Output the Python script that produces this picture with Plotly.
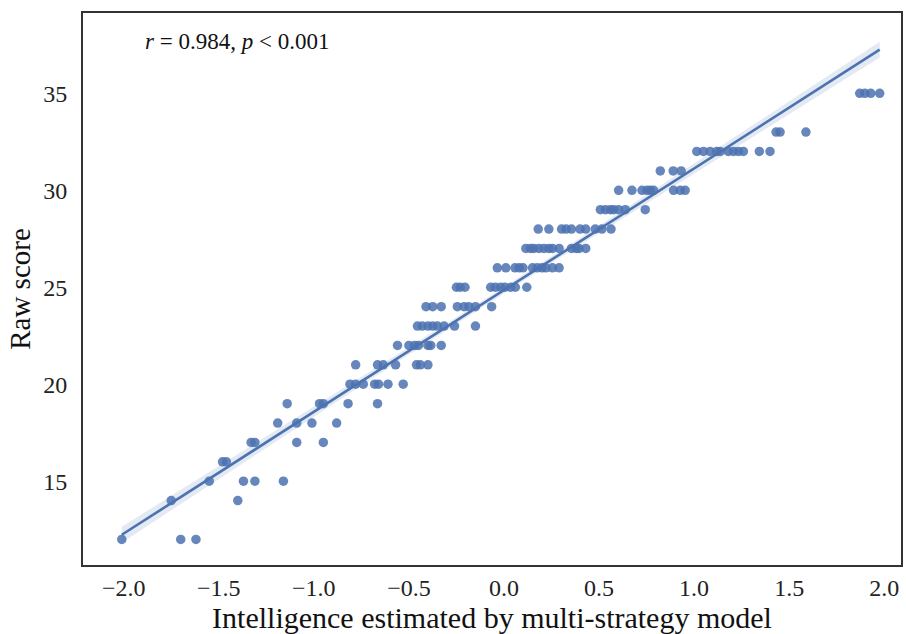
import numpy as np
import plotly.graph_objects as go

# Intelligence estimates, grouped by raw score
score_levels = [12, 14, 15, 16, 17, 18, 19, 20, 21, 22, 23, 24, 25, 26, 27, 28, 29, 30, 31, 32, 33, 35]
estimates_by_score = [
    [-2.01, -1.70, -1.62],
    [-1.75, -1.40],
    [-1.55, -1.37, -1.31, -1.16],
    [-1.48, -1.46],
    [-1.33, -1.31, -1.09, -0.95],
    [-1.19, -1.09, -1.01, -0.88],
    [-1.14, -0.97, -0.95, -0.82, -0.665],
    [-0.81, -0.78, -0.74, -0.68, -0.66, -0.61, -0.53],
    [-0.78, -0.665, -0.635, -0.57, -0.46, -0.44, -0.40],
    [-0.56, -0.50, -0.47, -0.45, -0.40, -0.385, -0.33],
    [-0.455, -0.43, -0.40, -0.375, -0.35, -0.315, -0.26, -0.15],
    [-0.41, -0.375, -0.33, -0.245, -0.21, -0.185, -0.15, -0.065],
    [-0.25, -0.23, -0.205, -0.07, -0.045, -0.017, 0.005, 0.035, 0.06, 0.12],
    [-0.035, 0.01, 0.058, 0.08, 0.10, 0.15, 0.175, 0.20, 0.22, 0.255, 0.29],
    [0.115, 0.14, 0.157, 0.184, 0.21, 0.236, 0.255, 0.29, 0.355, 0.38, 0.395, 0.43],
    [0.18, 0.236, 0.303, 0.327, 0.355, 0.40, 0.43, 0.48, 0.515, 0.563],
    [0.507, 0.534, 0.56, 0.577, 0.603, 0.638, 0.743],
    [0.603, 0.673, 0.726, 0.752, 0.77, 0.787, 0.892, 0.927, 0.953],
    [0.822, 0.89, 0.932],
    [1.014, 1.049, 1.084, 1.119, 1.137, 1.18, 1.207, 1.233, 1.259, 1.343, 1.399],
    [1.431, 1.452, 1.588],
    [1.871, 1.898, 1.929, 1.976],
]

x_ticks = [-2.0, -1.5, -1.0, -0.5, 0.0, 0.5, 1.0, 1.5, 2.0]
y_ticks = [15, 20, 25, 30, 35]
stats_label = "<i>r</i> = 0.984, <i>p</i> &lt; 0.001"

x = np.array([v for row in estimates_by_score for v in row])
y = np.array([s for s, row in zip(score_levels, estimates_by_score) for _ in row], dtype=float)

# Least-squares fit with a 95% confidence band
n = len(x)
slope, intercept = np.polyfit(x, y, 1)
xs = np.linspace(x.min(), x.max(), 100)
ys = intercept + slope * xs
resid = y - (intercept + slope * x)
s_err = np.sqrt(np.sum(resid ** 2) / (n - 2))
sxx = np.sum((x - x.mean()) ** 2)
half = 1.97 * s_err * np.sqrt(1.0 / n + (xs - x.mean()) ** 2 / sxx)

blue = "#4C72B0"
font_family = "Liberation Serif, Times New Roman, serif"

fig = go.Figure()
fig.add_trace(go.Scatter(
    x=np.concatenate([xs, xs[::-1]]),
    y=np.concatenate([ys + half, (ys - half)[::-1]]),
    fill="toself", fillcolor="rgba(76,114,176,0.15)",
    line=dict(width=0), hoverinfo="skip", showlegend=False,
))
fig.add_trace(go.Scatter(
    x=x, y=y, mode="markers",
    marker=dict(color=blue, size=9.5, opacity=0.85, line=dict(width=0)),
    showlegend=False,
))
fig.add_trace(go.Scatter(
    x=xs, y=ys, mode="lines",
    line=dict(color=blue, width=2.6),
    showlegend=False,
))

fig.add_annotation(
    x=-1.90, y=37.65, xref="x", yref="y",
    text=stats_label, showarrow=False,
    xanchor="left", yanchor="middle",
    font=dict(family=font_family, size=23, color="#111"),
)

axis_common = dict(
    showgrid=False, zeroline=False,
    showline=True, mirror=True, linecolor="#333", linewidth=2,
    ticks="", tickfont=dict(family=font_family, size=24, color="#222"),
)

fig.update_layout(
    width=906, height=634,
    margin=dict(l=83, r=3, t=13, b=68),
    paper_bgcolor="white", plot_bgcolor="white",
    xaxis=dict(
        range=[-2.214, 2.088], tickvals=x_ticks, tickformat=".1f",
        ticklabelstandoff=0,
        title=dict(text="Intelligence estimated by multi-strategy model",
                   font=dict(family=font_family, size=30, color="#111"), standoff=9),
        **axis_common,
    ),
    yaxis=dict(
        range=[10.68, 39.14], tickvals=y_ticks,
        ticklabelstandoff=9,
        title=dict(text="Raw score",
                   font=dict(family=font_family, size=29, color="#111"), standoff=4),
        **axis_common,
    ),
)

fig.write_html("out.html")
